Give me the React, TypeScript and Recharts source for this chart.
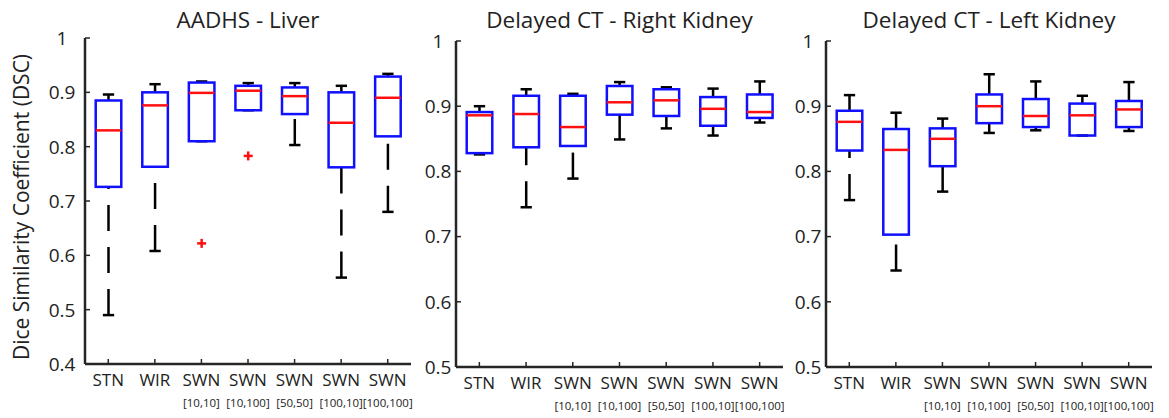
import React from 'react';
import { ComposedChart, Bar, XAxis, YAxis } from 'recharts';

// method names; the second word is the bracketed subscript
const categories = ['STN', 'WIR', 'SWN [10,10]', 'SWN [10,100]', 'SWN [50,50]', 'SWN [100,10]', 'SWN [100,100]'];

// AADHS - Liver
const liverLow = [0.49, 0.608, 0.81, 0.867, 0.803, 0.559, 0.68];
const liverQ1 = [0.726, 0.763, 0.81, 0.867, 0.86, 0.762, 0.819];
const liverMed = [0.83, 0.876, 0.899, 0.903, 0.893, 0.844, 0.89];
const liverQ3 = [0.885, 0.9, 0.918, 0.912, 0.909, 0.9, 0.929];
const liverHigh = [0.896, 0.915, 0.92, 0.917, 0.917, 0.912, 0.934];
const liverOutliers = [[], [], [0.622], [0.783], [], [], []];

// Delayed CT - Right Kidney
const rightLow = [0.826, 0.745, 0.789, 0.849, 0.866, 0.855, 0.875];
const rightQ1 = [0.828, 0.837, 0.839, 0.887, 0.885, 0.87, 0.882];
const rightMed = [0.886, 0.888, 0.868, 0.906, 0.909, 0.896, 0.891];
const rightQ3 = [0.891, 0.916, 0.916, 0.931, 0.926, 0.914, 0.918];
const rightHigh = [0.9, 0.926, 0.919, 0.937, 0.929, 0.927, 0.938];

// Delayed CT - Left Kidney
const leftLow = [0.756, 0.648, 0.769, 0.859, 0.863, 0.855, 0.862];
const leftQ1 = [0.832, 0.703, 0.808, 0.874, 0.868, 0.855, 0.868];
const leftMed = [0.876, 0.833, 0.85, 0.9, 0.885, 0.886, 0.895];
const leftQ3 = [0.893, 0.865, 0.866, 0.918, 0.911, 0.904, 0.908];
const leftHigh = [0.917, 0.89, 0.881, 0.949, 0.938, 0.916, 0.937];

const liverTicks = [0.4, 0.5, 0.6, 0.7, 0.8, 0.9, 1];
const kidneyTicks = [0.5, 0.6, 0.7, 0.8, 0.9, 1];

const FONT = '"Open Sans", sans-serif';
const TEXT = '#222';
const FRAME = '#262626';
const BLUE = '#1010ff';
const RED = '#ff1010';

const buildRows = (lo: number[], q1: number[], med: number[], q3: number[], hi: number[], out?: number[][]) =>
  categories.map((name, i) => ({
    name,
    lo: lo[i],
    q1: q1[i],
    med: med[i],
    q3: q3[i],
    hi: hi[i],
    outliers: out ? out[i] : [],
  }));

const liverData = buildRows(liverLow, liverQ1, liverMed, liverQ3, liverHigh, liverOutliers);
const rightData = buildRows(rightLow, rightQ1, rightMed, rightQ3, rightHigh);
const leftData = buildRows(leftLow, leftQ1, leftMed, leftQ3, leftHigh);

// draws one matlab-style box from the range bar [lo, hi] the library positioned
const BoxShape = (props: any) => {
  const { x, y, width, height, payload } = props;
  const { lo, q1, med, q3, hi, outliers } = payload;
  const py = (v: number) => y + ((hi - v) / (hi - lo)) * height;
  const cx = x + width / 2;
  const hb = width * 0.272;
  const hc = width * 0.12;
  return (
    <g>
      <line x1={cx} y1={py(hi)} x2={cx} y2={py(q3)} stroke="#000" strokeWidth={2.5} strokeDasharray="26 16" />
      <line x1={cx} y1={py(lo)} x2={cx} y2={py(q1)} stroke="#000" strokeWidth={2.5} strokeDasharray="26 16" />
      <line x1={cx - hc} y1={py(hi)} x2={cx + hc} y2={py(hi)} stroke="#000" strokeWidth={2.5} />
      <line x1={cx - hc} y1={py(lo)} x2={cx + hc} y2={py(lo)} stroke="#000" strokeWidth={2.5} />
      <rect x={cx - hb} y={py(q3)} width={hb * 2} height={py(q1) - py(q3)} fill="none" stroke={BLUE} strokeWidth={2.5} />
      <line x1={cx - hb} y1={py(med)} x2={cx + hb} y2={py(med)} stroke={RED} strokeWidth={2.5} />
      {outliers.map((o: number, k: number) => (
        <g key={k} stroke={RED} strokeWidth={2.5}>
          <line x1={cx - 4.5} y1={py(o)} x2={cx + 4.5} y2={py(o)} />
          <line x1={cx} y1={py(o) - 4.5} x2={cx} y2={py(o) + 4.5} />
        </g>
      ))}
    </g>
  );
};

const CategoryTick = (props: any) => {
  const { x, y, payload } = props;
  const [main, sub] = String(payload.value).split(' ');
  return (
    <g>
      <text x={x} y={y + 16} textAnchor="middle" fontSize={17} fill={TEXT} fontFamily={FONT}>
        {main}
      </text>
      {sub && (
        <text x={x} y={y + 36.5} textAnchor="middle" fontSize={11.5} fill={TEXT} fontFamily={FONT}>
          {sub}
        </text>
      )}
    </g>
  );
};

// tick labels in the source are centred on a column left of the frame
const ValueTick = (props: any) => {
  const { x, y, payload } = props;
  return (
    <text x={x} y={y} dy="0.36em" textAnchor="middle" fontSize={19} fill={TEXT} fontFamily={FONT}>
      {String(payload.value)}
    </text>
  );
};

const NoTick = () => <g />;

interface PanelProps {
  title: string;
  data: any[];
  ticks: number[];
  left: number;
  width: number;
  top: number;
  bottom: number;
  marginLeft: number;
  marginRight: number;
  labelGap: number;
}

const Panel: React.FC<PanelProps> = ({ title, data, ticks, left, width, top, bottom, marginLeft, marginRight, labelGap }) => {
  const plotLeft = marginLeft + 36;
  const plotWidth = width - plotLeft - marginRight;
  return (
    <div style={{ position: 'absolute', left, top: 0, width, height: 418 }}>
      <div
        style={{
          position: 'absolute',
          left: plotLeft,
          width: plotWidth,
          top: 4,
          textAlign: 'center',
          fontFamily: FONT,
          fontSize: 22.5,
          color: TEXT,
          lineHeight: '32px',
          whiteSpace: 'nowrap',
        }}
      >
        {title}
      </div>
      <ComposedChart
        width={width}
        height={418}
        data={data}
        margin={{ top, right: marginRight, bottom: 418 - bottom - 50, left: marginLeft }}
        barCategoryGap={0}
        style={{ position: 'absolute', left: 0, top: 0 }}
      >
        <XAxis
          dataKey="name"
          height={50}
          interval={0}
          tick={<CategoryTick />}
          tickSize={-5}
          tickMargin={11}
          axisLine={{ stroke: FRAME, strokeWidth: 2.5 }}
          tickLine={{ stroke: FRAME, strokeWidth: 1.5 }}
        />
        <XAxis
          xAxisId="top"
          dataKey="name"
          orientation="top"
          height={0}
          interval={0}
          tick={<NoTick />}
          tickSize={-5}
          axisLine={{ stroke: FRAME, strokeWidth: 2.5 }}
          tickLine={{ stroke: FRAME, strokeWidth: 1.5 }}
        />
        <YAxis
          type="number"
          domain={[ticks[0], 1]}
          ticks={ticks}
          interval={0}
          width={36}
          tickSize={-5}
          tickMargin={labelGap + 5}
          allowDataOverflow
          tick={<ValueTick />}
          axisLine={{ stroke: FRAME, strokeWidth: 2.5 }}
          tickLine={{ stroke: FRAME, strokeWidth: 1.5 }}
        />
        <YAxis
          yAxisId="right"
          orientation="right"
          type="number"
          domain={[ticks[0], 1]}
          ticks={ticks}
          interval={0}
          width={0}
          tickSize={-5}
          allowDataOverflow
          tick={<NoTick />}
          axisLine={{ stroke: FRAME, strokeWidth: 2.5 }}
          tickLine={{ stroke: FRAME, strokeWidth: 1.5 }}
        />
        <Bar dataKey={(d: any) => [d.lo, d.hi]} shape={<BoxShape />} isAnimationActive={false} />
      </ComposedChart>
    </div>
  );
};

export default function App() {
  return (
    <div style={{ position: 'absolute', left: 0, top: 0, width: 1169, height: 418, background: '#fff' }}>
      <div
        style={{
          position: 'absolute',
          left: 21,
          top: 207,
          transform: 'translate(-50%, -50%) rotate(-90deg)',
          whiteSpace: 'nowrap',
          fontFamily: FONT,
          fontSize: 21,
          color: TEXT,
        }}
      >
        Dice Similarity Coefficient (DSC)
      </div>
      <Panel title="AADHS - Liver" data={liverData} ticks={liverTicks} left={0} width={420} top={38} bottom={364} marginLeft={49} marginRight={9} labelGap={23} />
      <Panel title="Delayed CT - Right Kidney" data={rightData} ticks={kidneyTicks} left={415} width={380} top={41} bottom={367} marginLeft={5} marginRight={12} labelGap={18} />
      <Panel title="Delayed CT - Left Kidney" data={leftData} ticks={kidneyTicks} left={785} width={384} top={41} bottom={367} marginLeft={5} marginRight={17} labelGap={18} />
    </div>
  );
}
